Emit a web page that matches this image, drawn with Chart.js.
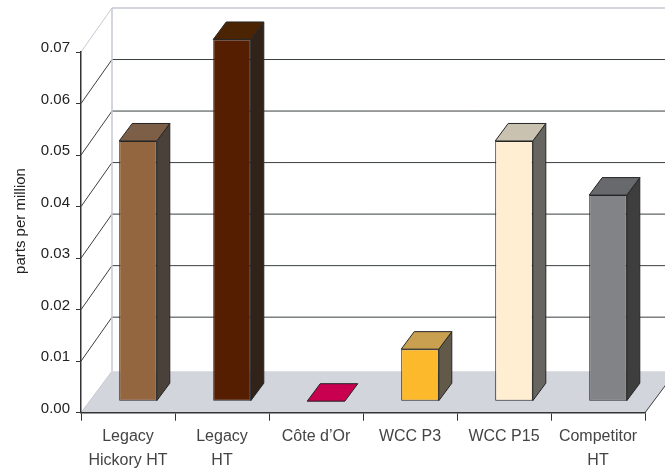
<!DOCTYPE html>
<html>
<head>
<meta charset="utf-8">
<title>parts per million</title>
<script src="https://cdn.jsdelivr.net/npm/chart.js@4"></script>
<style>
  html, body { margin:0; padding:0; background:#fff; }
  canvas { display:block; }
</style>
</head>
<body>
<canvas id="chart" width="665" height="469"></canvas>
<script>
const categories = [['Legacy','Hickory HT'], ['Legacy','HT'], 'Côte d’Or', 'WCC P3', 'WCC P15', ['Competitor','HT']];
const partsPerMillion = [0.0505, 0.0702, 0, 0.0101, 0.0505, 0.04];
const frontColors = ['#94663f', '#551e00', '#c8004f', '#fdb92c', '#ffeed2', '#828386'];
const topColors   = ['#7d5f48', '#4b2503', '#c8004f', '#c8a050', '#c9c2b0', '#68696c'];
const sideColors  = ['#4b413b', '#32231a', '#c8004f', '#625a48', '#666560', '#3e3e3e'];

// box offsets for the fake 3D look
const WALL = { dx:31, dy:-44, floorDy:-41.5 };
const BAR_SHIFT = { dx:10, dy:-11.5 };
const BAR_DEPTH = { dx:13, dy:-17.5 };
const EDGE = '#262626';

function poly(ctx, pts, fill, stroke, lw) {
  ctx.beginPath();
  pts.forEach((p,i) => i ? ctx.lineTo(p[0],p[1]) : ctx.moveTo(p[0],p[1]));
  ctx.closePath();
  if (fill) { ctx.fillStyle = fill; ctx.fill(); }
  if (stroke) { ctx.strokeStyle = stroke; ctx.lineWidth = lw || 1; ctx.stroke(); }
}

function seg(ctx, x1, y1, x2, y2, color, lw) {
  ctx.beginPath();
  ctx.moveTo(x1,y1); ctx.lineTo(x2,y2);
  ctx.strokeStyle = color; ctx.lineWidth = lw || 1; ctx.stroke();
}

// floor, walls and gridlines sit behind everything else
const backdrop = {
  id:'backdrop',
  beforeDraw(chart) {
    const { ctx, chartArea:a, scales:{ y } } = chart;
    const d = WALL, wall = '#c6c9d2';
    ctx.save();
    const y0 = y.getPixelForValue(0);
    poly(ctx, [[a.left,y0],[a.right,y0],[a.right+d.dx,y0+d.floorDy],[a.left+d.dx,y0+d.floorDy]], '#d2d5dc');
    y.ticks.forEach(t => {
      const py = y.getPixelForValue(t.value);
      if (t.value === 0) return;
      const top = t.value >= 0.07;
      seg(ctx, a.left, py, a.left+d.dx, py+d.dy, top ? wall : '#3a3f3f');
      seg(ctx, a.left+d.dx, py+d.dy, a.right+d.dx, py+d.dy, top ? wall : '#3a3f3f', top ? 1.5 : 1);
    });
    seg(ctx, a.left+d.dx, a.top+d.dy, a.left+d.dx, y0+d.floorDy, wall, 1.5);
    seg(ctx, a.left, y0, a.left+d.dx, y0+d.floorDy, wall);
    seg(ctx, a.right, y0, a.right+d.dx, y0+d.floorDy, '#3a3f3f');
    ctx.restore();
  },
  afterDraw(chart) {
    const { ctx } = chart;
    ctx.save();
    ctx.translate(20.5, 221);
    ctx.rotate(-Math.PI/2);
    ctx.font = '15px "Liberation Sans"';
    ctx.fillStyle = '#222';
    ctx.textAlign = 'center';
    ctx.textBaseline = 'middle';
    ctx.fillText('parts per million', 0, 0);
    ctx.restore();
  }
};

// bars stand in the middle of the floor: move the plane, add the side and top faces
const boxes = {
  id:'boxes',
  beforeDatasetDraw(chart, args) {
    const { ctx } = chart, d = BAR_DEPTH;
    ctx.save();
    ctx.translate(BAR_SHIFT.dx, BAR_SHIFT.dy);
    ctx.lineJoin = 'round';
    args.meta.data.forEach((bar,i) => {
      const l = bar.x - bar.width/2, r = bar.x + bar.width/2;
      if (bar.base - bar.y > 0.5) {
        poly(ctx, [[r,bar.y],[r+d.dx,bar.y+d.dy],[r+d.dx,bar.base+d.dy],[r,bar.base]], sideColors[i], EDGE);
      }
      poly(ctx, [[l,bar.y],[l+d.dx,bar.y+d.dy],[r+d.dx,bar.y+d.dy],[r,bar.y]], topColors[i], EDGE);
    });
  },
  afterDatasetDraw(chart) {
    chart.ctx.restore();
  }
};

new Chart(document.getElementById('chart'), {
  type:'bar',
  data:{ labels:categories, datasets:[{
    data:partsPerMillion,
    backgroundColor:frontColors,
    borderColor:EDGE,
    borderWidth:1,
    borderSkipped:false,
    barPercentage:0.4,
    categoryPercentage:1,
    clip:false
  }]},
  options:{
    responsive:false,
    animation:false,
    layout:{ padding:{ top:52, right:20, left:0, bottom:0 } },
    plugins:{ legend:{ display:false }, tooltip:{ enabled:false } },
    scales:{
      x:{
        grid:{ drawOnChartArea:false, color:'#333', tickLength:8 },
        border:{ color:'#333', width:1.5 },
        ticks:{ color:'#444', padding:4, maxRotation:0, autoSkip:false,
          font:{ family:'"Liberation Sans"', size:16, lineHeight:1.5 } },
        afterFit(s) { s.height = 56.3; }
      },
      y:{
        min:0, max:0.07,
        grid:{ drawOnChartArea:false, color:'#333', tickLength:5 },
        border:{ color:'#333', width:1.5 },
        ticks:{ stepSize:0.01, color:'#222', padding:6, labelOffset:-4,
          font:{ family:'"Liberation Sans"', size:15 },
          callback:v => v.toFixed(2) },
        afterFit(s) { s.width = 81; }
      }
    }
  },
  plugins:[backdrop, boxes]
});
</script>
</body>
</html>
